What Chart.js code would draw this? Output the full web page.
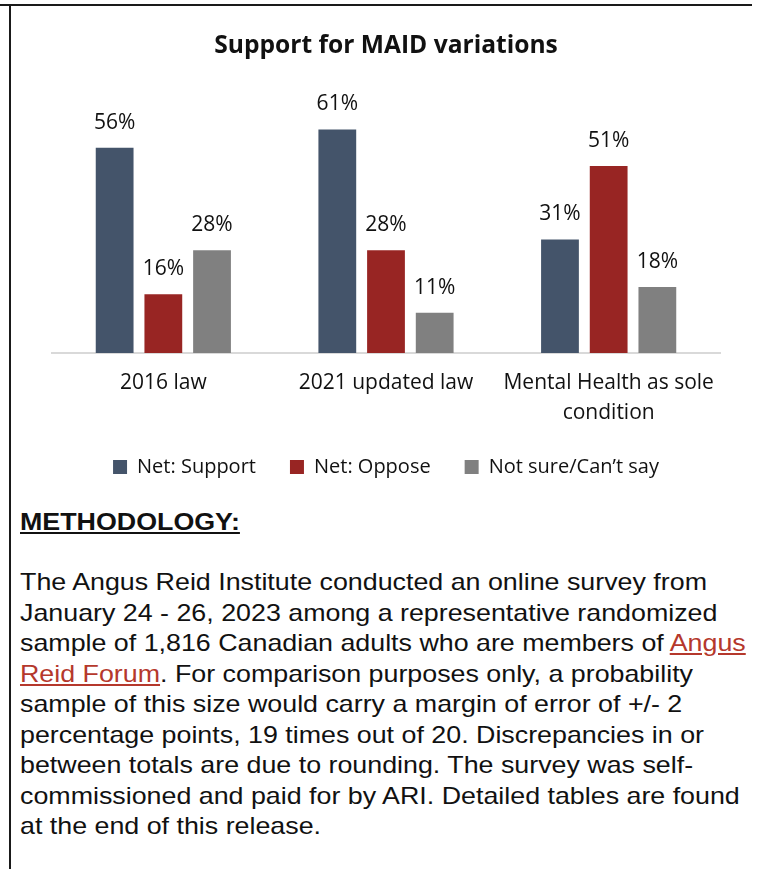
<!DOCTYPE html>
<html>
<head>
<meta charset="utf-8">
<script src="https://cdn.jsdelivr.net/npm/chart.js@4"></script>
<style>
  html, body { margin:0; padding:0; background:#fff; width:758px; height:869px; overflow:hidden; }
  #wrap { position:absolute; left:0; top:0; width:758px; height:487px; }
  #topline { position:absolute; left:0; top:4px; width:752px; height:2px; background:#1a1a1a; }
  #leftline { position:absolute; left:9px; top:4px; width:2px; height:865px; background:#1a1a1a; }
  #method { position:absolute; left:20px; top:506px; font-family:"Liberation Sans", Arial, sans-serif; color:#111; transform:scaleX(1.117); transform-origin:0 0; }
  #method h3 { margin:0; font-size:24px; font-weight:bold; text-decoration:underline; line-height:32px; }
  #method p { margin:29px 0 0 0; font-size:24px; line-height:30.5px; white-space:nowrap; }
  #method a { color:#B5382C; text-decoration:underline; }
</style>
</head>
<body>
<div id="wrap"><canvas id="c" width="758" height="487"></canvas></div>
<div id="topline"></div>
<div id="leftline"></div>
<div id="method">
  <h3>METHODOLOGY:</h3>
  <p>The Angus Reid Institute conducted an online survey from<br>
January 24 - 26, 2023 among a representative randomized<br>
sample of 1,816 Canadian adults who are members of <a>Angus</a><br>
<a>Reid Forum</a>. For comparison purposes only, a probability<br>
sample of this size would carry a margin of error of +/- 2<br>
percentage points, 19 times out of 20. Discrepancies in or<br>
between totals are due to rounding. The survey was self-<br>
commissioned and paid for by ARI. Detailed tables are found<br>
at the end of this release.</p>
</div>
<script>
const categories = [["2016 law"], ["2021 updated law"], ["Mental Health as sole", "condition"]];
const seriesNames = ["Net: Support", "Net: Oppose", "Not sure/Can\u2019t say"];
const support = [56, 61, 31];
const oppose = [16, 28, 51];
const notSure = [28, 11, 18];
const colors = ["#44546A", "#982523", "#808080"];

const FONT = "'Open Sans', Lato, sans-serif";

const labelPlugin = {
  id: 'valLabels',
  afterDatasetsDraw(chart) {
    const ctx = chart.ctx;
    ctx.save();
    ctx.font = "21px " + FONT;
    ctx.fillStyle = "#111";
    ctx.textAlign = "center";
    ctx.textBaseline = "middle";
    chart.data.datasets.forEach((ds, i) => {
      chart.getDatasetMeta(i).data.forEach((bar, j) => {
        ctx.fillText(ds.data[j] + "%", bar.x, bar.y - 25);
      });
    });
    ctx.restore();
  }
};

new Chart(document.getElementById('c'), {
  type: 'bar',
  data: {
    labels: categories,
    datasets: [
      { label: seriesNames[0], data: support, backgroundColor: colors[0] },
      { label: seriesNames[1], data: oppose, backgroundColor: colors[1] },
      { label: seriesNames[2], data: notSure, backgroundColor: colors[2] }
    ]
  },
  options: {
    responsive: false,
    animation: false,
    devicePixelRatio: 1,
    layout: { padding: { left: 52, right: 38, top: 0, bottom: 0 } },
    datasets: { bar: { categoryPercentage: 0.656, barPercentage: 0.776 } },
    plugins: {
      title: {
        display: true,
        text: "Support for MAID variations",
        color: "#111",
        font: { family: FONT, size: 24.6, weight: 'bold', lineHeight: 1.2 },
        padding: { top: 31, bottom: 36 }
      },
      legend: {
        position: 'bottom',
        labels: {
          color: "#111",
          font: { family: FONT, size: 20 },
          boxWidth: 14, boxHeight: 14,
          padding: 34
        }
      },
      tooltip: { enabled: false }
    },
    scales: {
      x: {
        grid: { display: false, drawTicks: false },
        border: { display: true, color: "#D9D9D9", width: 2 },
        ticks: { color: "#111", font: { family: FONT, size: 21, lineHeight: 1.43 }, padding: 15, maxRotation: 0 },
        afterFit(scale) { scale.height -= 20; }
      },
      y: {
        display: false,
        min: 0, max: 70
      }
    }
  },
  plugins: [labelPlugin]
});
</script>
</body>
</html>
